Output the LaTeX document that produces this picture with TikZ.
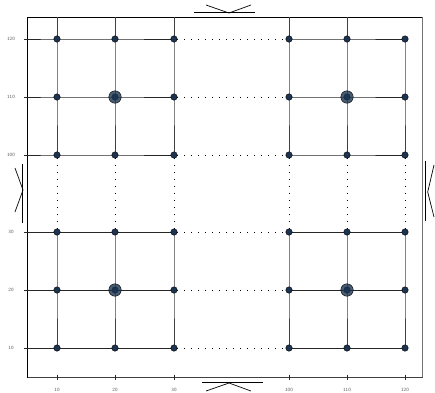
\documentclass[tikz,border=0pt]{standalone}
\usetikzlibrary{backgrounds}
\definecolor{nodeblue}{RGB}{28,52,80}
\begin{document}
\begin{tikzpicture}[x=1pt,y=-1pt,
  dot/.style={circle,fill=nodeblue,draw=black,line width=0.4pt,inner sep=0pt,minimum size=6.5pt},
  bigdot/.style={circle,fill=nodeblue,fill opacity=0.8,draw=black,line width=0.4pt,inner sep=0pt,minimum size=12.5pt},
  gline/.style={draw=black!85,line width=0.85pt},
  glight/.style={draw=black!75,line width=0.95pt},
  dotline/.style={draw=black,line width=0.7pt,dash pattern=on 0.7pt off 6.3pt},
  frame/.style={draw=black,line width=0.9pt},
  brk/.style={draw=black,line width=0.7pt},
  tlabel/.style={font=\fontsize{4.8}{4.8}\selectfont\sffamily,text=black!65,inner sep=0pt}]
\useasboundingbox (0,0) rectangle (435,392);
% nodes
\foreach \c/\x in {1/57,2/115,3/174,4/289,5/347,6/405}{
  \foreach \r/\y in {1/39,2/97,3/155,4/232,5/290,6/348}{
    \node[dot] (n\c\r) at (\x,\y) {};
  }
}
\node[bigdot] (b1) at (115,97) {};
\node[bigdot] (b2) at (347,97) {};
\node[bigdot] (b3) at (115,290) {};
\node[bigdot] (b4) at (347,290) {};
% frame corners
\coordinate (tl) at (27,17);
\coordinate (tr) at (422.5,17);
\coordinate (bl) at (27,377.5);
\coordinate (br) at (422.5,377.5);
\begin{pgfonlayer}{background}
% frame
\draw[frame] (tl) -- (tr);
\draw[frame,draw=black!55] (tr) -- (br);
\draw[frame,draw=black!75] (bl) -- (br);
\draw[frame] (tl) -- (bl);
% horizontal grid lines
\foreach \r/\y in {1/39,2/97,3/155,4/232,5/290,6/348}{
  \coordinate (L\r) at (24,\y);
  \draw[gline] (L\r) -- (n1\r.center) -- (n2\r.center) -- (n3\r.center);
  \draw[gline] (n4\r.center) -- (n5\r.center) -- (n6\r.center);
  \draw[dotline] (n3\r.east) -- (n4\r.west);
}
% vertical grid lines
\foreach \c/\x in {1/57,2/115,3/174,4/289,5/347}{
  \coordinate (T\c) at (\x,17);
  \draw[glight] (T\c) -- (n\c1.center);
}
\foreach \c in {1,2,3,4,5,6}{
  \draw[glight] (n\c1.center) -- (n\c2.center) -- (n\c3.center);
  \draw[glight] (n\c4.center) -- (n\c5.center) -- (n\c6.center);
  \draw[dotline] (n\c3.south) -- (n\c4.north);
}
% ticks
\foreach \c/\x in {1/57,2/115,3/174,4/289,5/347,6/405}{
  \coordinate (B\c) at (\x,374.5);
  \coordinate (B\c x) at (\x,380);
  \draw[gline] (B\c) -- (B\c x);
}
\end{pgfonlayer}
% axis labels
\foreach \y/\t in {39/120,97/110,155/100,232/30,290/20,348/10}{
  \node[tlabel] (yl\t) at (11,\y) {\t};
}
\foreach \x/\t in {57/10,115/20,174/30,289/100,347/110,405/120}{
  \node[tlabel] (xl\t) at (\x,390) {\t};
}
% break marks
\draw[brk] (194,12.7) -- (255,12.7);
\draw[brk] (206,5) -- (229,13) -- (251,5);
\draw[brk] (202,382.7) -- (263,382.7);
\draw[brk] (206,391) -- (229,383) -- (251,391);
\draw[brk] (22.7,164) -- (22.7,223);
\draw[brk] (15,168) -- (23,190) -- (15,212);
\draw[brk] (425.7,161) -- (425.7,221);
\draw[brk] (434,165) -- (427.7,192) -- (434,217);
\end{tikzpicture}
\end{document}
